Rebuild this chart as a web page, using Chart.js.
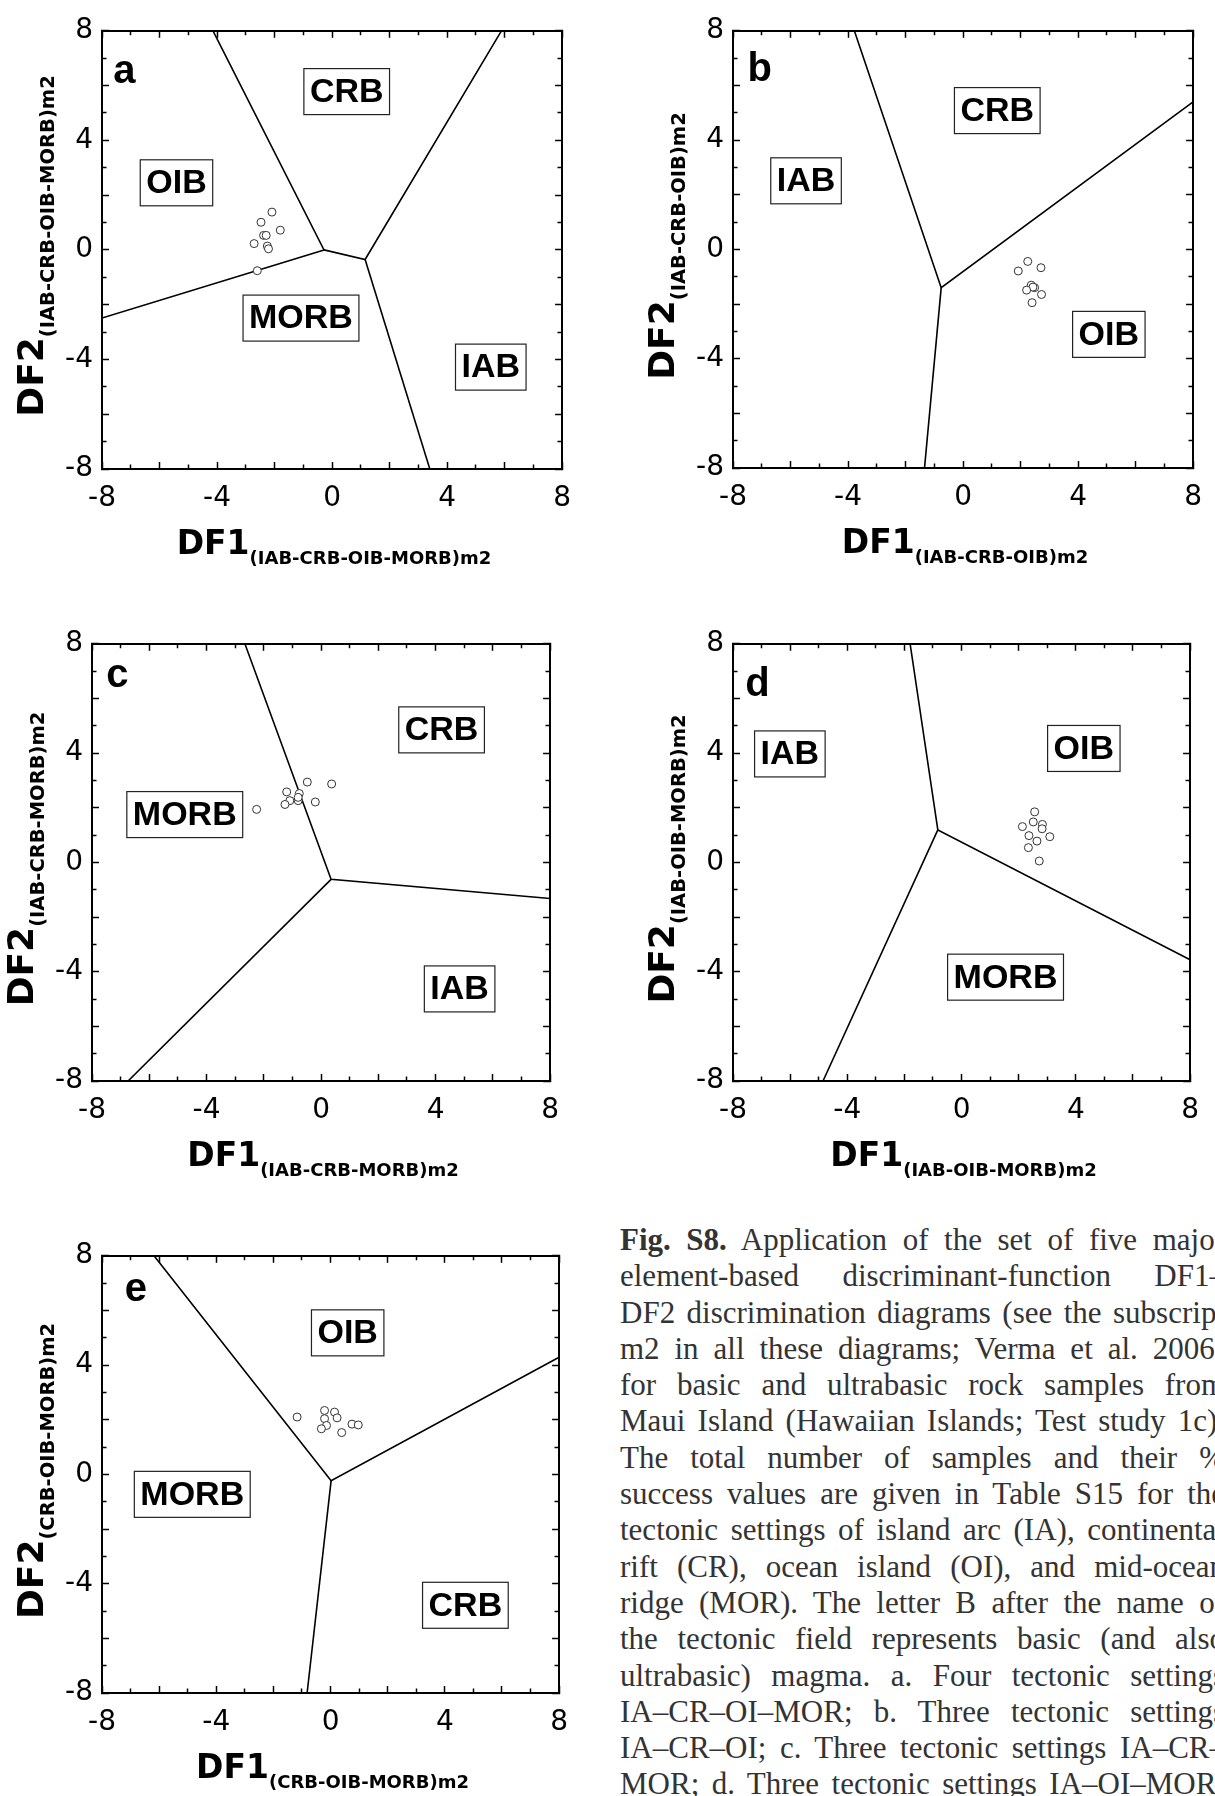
<!DOCTYPE html>
<html>
<head>
<meta charset="utf-8">
<title>Fig. S8</title>
<script src="https://cdn.jsdelivr.net/npm/chart.js@4.4.1/dist/chart.umd.min.js"></script>
<style>
  html, body { margin: 0; padding: 0; background: #fff; overflow: hidden; }
  #page { position: relative; width: 1215px; height: 1796px; overflow: hidden; background: #fff; }
  #page canvas { position: absolute; }
  .axis-title { position: absolute; width: 600px; height: 41px; font-family: "DejaVu Sans", sans-serif; font-weight: bold;
                font-size: 33px; line-height: 33px; text-align: center; white-space: nowrap; color: #000; }
  .axis-title sub { font-size: 18px; line-height: 18px; vertical-align: -10px; }
  .axis-title.y { height: 44px; font-size: 36px; line-height: 36px; transform: rotate(-90deg); }
  .axis-title.y sub { font-size: 19.5px; line-height: 19.5px; vertical-align: -11px; }
  #caption { position: absolute; left: 620px; top: 1222px; width: 605px; font-family: "Liberation Serif", "Times New Roman", serif;
             font-size: 31px; line-height: 36.3px; color: #333; }
  #caption div { text-align: justify; text-align-last: justify; }
</style>
</head>
<body>
<div id="page">
  <div id="caption">
    <div><b>Fig. S8.</b> Application of the set of five major</div>
    <div>element-based discriminant-function DF1–</div>
    <div>DF2 discrimination diagrams (see the subscript</div>
    <div>m2 in all these diagrams; Verma et al. 2006)</div>
    <div>for basic and ultrabasic rock samples from</div>
    <div>Maui Island (Hawaiian Islands; Test study 1c).</div>
    <div>The total number of samples and their %</div>
    <div>success values are given in Table S15 for the</div>
    <div>tectonic settings of island arc (IA), continental</div>
    <div>rift (CR), ocean island (OI), and mid-ocean</div>
    <div>ridge (MOR). The letter B after the name of</div>
    <div>the tectonic field represents basic (and also</div>
    <div>ultrabasic) magma. a. Four tectonic settings</div>
    <div>IA–CR–OI–MOR; b. Three tectonic settings</div>
    <div>IA–CR–OI; c. Three tectonic settings IA–CR–</div>
    <div>MOR; d. Three tectonic settings IA–OI–MOR;</div>
  </div>
</div>
<script>
// labelled ticks on both axes
const tickLabels = [-8, -4, 0, 4, 8];

// a: IAB-CRB-OIB-MORB
const aDF1 = [-2.09, -2.47, -1.80, -2.38, -2.29, -2.71, -2.25, -2.21, -2.60];
const aDF2 = [1.38, 1.01, 0.72, 0.53, 0.53, 0.23, 0.14, 0.04, -0.76];
const aBoundaries = [
  [[-4.14, 8], [-0.28, 0], [-8, -2.49]],
  [[-0.28, 0], [1.15, -0.35], [5.89, 8]],
  [[1.15, -0.35], [3.40, -8]]
];
const aFields = ['CRB', 'OIB', 'MORB', 'IAB'];
const aFieldDF1 = [0.51, -5.41, -1.08, 5.52];
const aFieldDF2 = [5.78, 2.45, -2.49, -4.28];

// b: IAB-CRB-OIB
const bDF1 = [2.25, 2.71, 1.92, 2.37, 2.49, 2.43, 2.21, 2.73, 2.40];
const bDF2 = [-0.44, -0.67, -0.79, -1.31, -1.40, -1.38, -1.49, -1.65, -1.95];
const bBoundaries = [
  [[-3.78, 8], [-0.76, -1.40], [8, 5.40]],
  [[-0.76, -1.40], [-1.34, -8]]
];
const bFields = ['CRB', 'IAB', 'OIB'];
const bFieldDF1 = [1.19, -5.46, 5.07];
const bFieldDF2 = [5.08, 2.51, -3.11];

// c: IAB-CRB-MORB
const cDF1 = [-0.48, 0.37, -1.20, -0.76, -1.09, -0.80, -0.80, -0.20, -1.26, -2.25];
const cDF2 = [2.94, 2.87, 2.58, 2.52, 2.26, 2.26, 2.38, 2.21, 2.12, 1.94];
const cBoundaries = [
  [[-2.66, 8], [0.35, -0.62], [8, -1.32]],
  [[0.35, -0.62], [-6.74, -8]]
];
const cFields = ['CRB', 'MORB', 'IAB'];
const cFieldDF1 = [4.21, -4.76, 4.84];
const cFieldDF2 = [4.85, 1.75, -4.63];

// d: IAB-OIB-MORB
const dDF1 = [2.56, 2.51, 2.83, 2.13, 2.82, 2.36, 3.09, 2.64, 2.34, 2.72];
const dDF2 = [1.85, 1.48, 1.39, 1.31, 1.23, 0.98, 0.94, 0.78, 0.54, 0.05];
const dBoundaries = [
  [[-1.80, 8], [-0.83, 1.19], [8, -3.56]],
  [[-0.83, 1.19], [-4.85, -8]]
];
const dFields = ['IAB', 'OIB', 'MORB'];
const dFieldDF1 = [-6.01, 4.28, 1.54];
const dFieldDF2 = [3.97, 4.17, -4.20];

// e: CRB-OIB-MORB
const eDF1 = [-1.17, -0.21, 0.14, -0.21, 0.23, -0.14, -0.32, 0.75, 0.97, 0.39];
const eDF2 = [2.10, 2.34, 2.28, 2.04, 2.07, 1.79, 1.67, 1.84, 1.81, 1.53];
const eBoundaries = [
  [[-6.18, 8], [0.02, -0.23], [8, 4.29]],
  [[0.02, -0.23], [-0.82, -8]]
];
const eFields = ['OIB', 'MORB', 'CRB'];
const eFieldDF1 = [0.60, -4.84, 4.72];
const eFieldDF2 = [5.18, -0.73, -4.79];

// where each plot frame sits on the page: left, top, width, height
const panels = [
  { letter: 'a', letterAt: [-7.22, 6.49], sub: '(IAB-CRB-OIB-MORB)m2', df1: aDF1, df2: aDF2, lines: aBoundaries,
    fields: aFields, fx: aFieldDF1, fy: aFieldDF2, box: [102, 23, 464, 446] },
  { letter: 'b', letterAt: [-7.07, 6.55], sub: '(IAB-CRB-OIB)m2', df1: bDF1, df2: bDF2, lines: bBoundaries,
    fields: bFields, fx: bFieldDF1, fy: bFieldDF2, box: [733, 23, 464, 445] },
  { letter: 'c', letterAt: [-7.11, 6.84], sub: '(IAB-CRB-MORB)m2', df1: cDF1, df2: cDF2, lines: cBoundaries,
    fields: cFields, fx: cFieldDF1, fy: cFieldDF2, box: [92, 636, 462, 445] },
  { letter: 'd', letterAt: [-7.14, 6.50], sub: '(IAB-OIB-MORB)m2', df1: dDF1, df2: dDF2, lines: dBoundaries,
    fields: dFields, fx: dFieldDF1, fy: dFieldDF2, box: [733, 636, 461, 445] },
  { letter: 'e', letterAt: [-6.81, 6.76], sub: '(CRB-OIB-MORB)m2', df1: eDF1, df2: eDF2, lines: eBoundaries,
    fields: eFields, fx: eFieldDF1, fy: eFieldDF2, box: [102, 1248, 461, 445] }
];

const PAD_L = 75, PAD_T = 25, PAD_R = 25, PAD_B = 55;

// boxed field names and the panel letter
const fieldLabels = {
  id: 'fieldLabels',
  afterDatasetsDraw(chart, args, opts) {
    const ctx = chart.ctx;
    const x = chart.scales.x, y = chart.scales.y;
    ctx.save();
    ctx.font = 'bold 34px "Liberation Sans", Arial, sans-serif';
    ctx.textAlign = 'center';
    ctx.textBaseline = 'middle';
    opts.names.forEach((name, i) => {
      const px = x.getPixelForValue(opts.fx[i]);
      const py = y.getPixelForValue(opts.fy[i]);
      const w = ctx.measureText(name).width + 12;
      const h = 46;
      ctx.fillStyle = '#fff';
      ctx.fillRect(px - w / 2, py - h / 2, w, h);
      ctx.strokeStyle = '#222';
      ctx.lineWidth = 1.2;
      ctx.strokeRect(px - w / 2, py - h / 2, w, h);
      ctx.fillStyle = '#000';
      ctx.fillText(name, px, py + 1);
    });
    ctx.font = 'bold 40px "Liberation Sans", Arial, sans-serif';
    ctx.fillText(opts.letter, x.getPixelForValue(opts.letterAt[0]), y.getPixelForValue(opts.letterAt[1]));
    ctx.restore();
  }
};

// short ticks on odd values, long ones on even values (all pointing inward)
function tickDash(side) {
  return function (ctx) {
    const v = ctx.tick ? ctx.tick.value : 0;
    if (Math.abs(v) % 2 === 0) return [];
    return (side === 'bottom' || side === 'right') ? [5.5, 20] : [0, 2.5, 5.5, 20];
  };
}

function axis(side, labels) {
  const horizontal = side === 'bottom' || side === 'top';
  return {
    type: 'linear',
    axis: horizontal ? 'x' : 'y',
    position: side,
    min: -8,
    max: 8,
    afterFit: s => {
      if (horizontal) s.height = labels ? PAD_B : 0;
      else s.width = labels ? PAD_L : 0;
    },
    ticks: {
      display: labels,
      stepSize: 1,
      maxTicksLimit: 20,
      autoSkip: false,
      minRotation: 0,
      maxRotation: 0,
      padding: horizontal ? 20 : 16,
      color: '#000',
      font: { family: 'DejaVu Sans', size: 28 },
      callback: v => tickLabels.includes(v) ? String(v) : ''
    },
    grid: {
      drawOnChartArea: false,
      drawTicks: true,
      tickLength: -7,
      tickWidth: 1.5,
      tickColor: '#000',
      tickBorderDash: tickDash(side)
    },
    border: { display: true, color: '#000', width: 2 }
  };
}

function drawPanel(p) {
  const page = document.getElementById('page');
  const [L, T, W, H] = p.box;

  const canvas = document.createElement('canvas');
  canvas.width = W + PAD_L + PAD_R;
  canvas.height = H + PAD_T + PAD_B;
  canvas.style.left = (L - PAD_L) + 'px';
  canvas.style.top = (T - PAD_T) + 'px';
  page.appendChild(canvas);

  const datasets = [{
    data: p.df1.map((v, i) => ({ x: v, y: p.df2[i] })),
    showLine: false,
    pointRadius: 4,
    pointBorderWidth: 1,
    pointBorderColor: '#333',
    pointBackgroundColor: '#fff'
  }];
  p.lines.forEach(line => {
    datasets.push({
      data: line.map(pt => ({ x: pt[0], y: pt[1] })),
      showLine: true,
      pointRadius: 0,
      borderColor: '#000',
      borderWidth: 1.6,
      fill: false,
      tension: 0
    });
  });

  new Chart(canvas, {
    type: 'scatter',
    data: { datasets: datasets },
    options: {
      responsive: false,
      animation: false,
      devicePixelRatio: 1,
      events: [],
      layout: { padding: { top: PAD_T, right: PAD_R, left: 0, bottom: 0 } },
      plugins: {
        legend: { display: false },
        tooltip: { enabled: false },
        fieldLabels: { names: p.fields, fx: p.fx, fy: p.fy, letter: p.letter, letterAt: p.letterAt }
      },
      scales: {
        x: axis('bottom', true),
        x2: axis('top', false),
        y: axis('left', true),
        y2: axis('right', false)
      }
    },
    plugins: [fieldLabels]
  });

  // axis titles with subscripts
  const xt = document.createElement('div');
  xt.className = 'axis-title';
  xt.innerHTML = 'DF1<sub>' + p.sub + '</sub>';
  xt.style.left = (L + W / 2 - 300) + 'px';
  xt.style.top = (T + H + 57) + 'px';
  page.appendChild(xt);

  const yt = document.createElement('div');
  yt.className = 'axis-title y';
  yt.innerHTML = 'DF2<sub>' + p.sub + '</sub>';
  yt.style.left = (L - 67.5 - 300) + 'px';
  yt.style.top = (T + H / 2 - 22) + 'px';
  page.appendChild(yt);
}

panels.forEach(drawPanel);
</script>
</body>
</html>
